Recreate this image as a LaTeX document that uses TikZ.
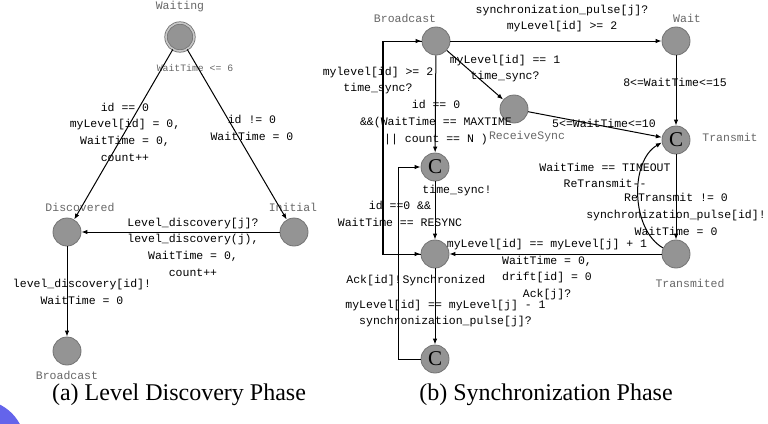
\documentclass[tikz,border=0pt]{standalone}
\usepackage{fontspec}
\setmainfont{Liberation Serif}
\newfontfamily\uppaalfont{Liberation Mono}
\usetikzlibrary{arrows.meta}
\definecolor{blobblue}{RGB}{100,100,235}

\begin{document}
\begin{tikzpicture}[
  x=1pt, y=-1pt,
  loc/.style={circle, draw=black!55, fill=black!42, minimum size=28pt,
    inner sep=0pt, line width=0.8pt},
  comm/.style={loc, font=\fontsize{21}{21}\selectfont},
  initloc/.style={loc, double=black!22, double distance=1.6pt},
  lbl/.style={align=center, inner sep=0pt,
    font=\uppaalfont\fontsize{11.5}{16.7}\selectfont},
  locname/.style={lbl, text=black!60},
  guard/.style={lbl, text=black!60, font=\uppaalfont\fontsize{9.8}{12}\selectfont},
  capt/.style={inner sep=0pt, font=\fontsize{24}{26}\selectfont},
  arr/.style={-{Latex[length=6pt, width=4.5pt]}, line width=1pt}
]
\useasboundingbox (0,0) rectangle (768,423);
\fill[blobblue] (-20,445) circle (45);

% (a) level discovery
\node[initloc] (waiting) at (180,37) {};
\node[loc] (discovered) at (67,232) {};
\node[loc] (initial) at (294,232) {};
\node[loc] (bcastA) at (67,351) {};

\node[locname] (nWaiting) at (180,7) {Waiting};
\node[locname] (nDiscovered) at (80,207) {Discovered};
\node[locname] (nInitial) at (293,207) {Initial};
\node[locname] (nBcastA) at (67,375.5) {Broadcast};
\node[guard] (gWait) at (195,68) {WaitTime <= 6};

\node[lbl] (lRoot) at (125,132) {id == 0\\myLevel[id] = 0,\\WaitTime = 0,\\count++};
\node[lbl] (lNode) at (252,128) {id != 0\\WaitTime = 0};
\node[lbl] (lDisc) at (193,247) {Level\_discovery[j]?\\level\_discovery(j),\\WaitTime = 0,\\count++};
\node[lbl] (lSend) at (82,292) {level\_discovery[id]!\\WaitTime = 0};

\draw[arr] (waiting) -- (discovered);
\draw[arr] (waiting) -- (initial);
\draw[arr] (initial) -- (discovered);
\draw[arr] (discovered) -- (bcastA);

\node[capt] (captA) at (179,395) {(a) Level Discovery Phase};

% (b) synchronization
\node[loc] (bcastB) at (436,41) {};
\node[loc] (wait) at (676,41) {};
\node[loc] (recsync) at (514,109) {};
\node[comm] (transmit) at (676,140) {C};
\node[comm] (commitA) at (435,167) {C};
\node[loc] (sync) at (435,254) {};
\node[loc] (transmited) at (676,254) {};
\node[comm] (commitB) at (435,359) {C};

\node[locname] (nBcastB) at (405,18) {Broadcast};
\node[locname] (nWaitB) at (687,18) {Wait};
\node[locname] (nRecSync) at (527,137) {ReceiveSync};
\node[locname] (nTransmit) at (730,137) {Transmit};
\node[locname] (nTransmited) at (690,283) {Transmited};
\node[lbl] (nSync) at (444,281) {Synchronized};

\node[lbl] (lPulse) at (562,18.5) {synchronization\_pulse[j]?\\myLevel[id] >= 2};
\node[lbl] (lLevelOne) at (505,68.5) {myLevel[id] == 1\\time\_sync?};
\node[lbl] (lLevelTwo) at (378,80.5) {mylevel[id] >= 2\\time\_sync?};
\node[lbl] (lMaxTime) at (436,122.5) {id == 0\\\&\&(WaitTime == MAXTIME\\|| count == N )};
\node[lbl] (lWaitA) at (675,82) {8<=WaitTime<=15};
\node[lbl] (lWaitB) at (604,123) {5<=WaitTime<=10};
\node[lbl] (lSyncOut) at (457,191) {time\_sync!};
\node[lbl] (lResync) at (400,214) {id ==0 \&\&\\WaitTime == RESYNC};
\node[lbl] (lTimeout) at (605,175.5) {WaitTime == TIMEOUT\\ReTransmit-{}-};
\node[lbl] (lRetrans) at (676,214.5) {ReTransmit != 0\\synchronization\_pulse[id]!\\WaitTime = 0};
\node[lbl] (lAck) at (547,269.5) {myLevel[id] == myLevel[j] + 1\\WaitTime = 0,\\drift[id] = 0\\Ack[j]?};
\node[lbl] (lAckOut) at (374,281) {Ack[id]!};
\node[lbl] (lLower) at (445.5,313.5) {myLevel[id] == myLevel[j] - 1\\synchronization\_pulse[j]?};

\draw[arr] (bcastB) -- (wait);
\draw[arr] (bcastB) -- (recsync);
\draw[arr] (recsync) -- (transmit);
\draw[arr] (wait) -- (transmit);
\draw[arr] (transmit) -- (transmited);
\draw[arr] (transmited) -- (sync);
\draw[arr] (transmited.155) to[out=150, in=210, looseness=0.9] (transmit.190);
\draw[arr] (bcastB) -- (commitA);
\draw[arr] (commitA) -- (sync);
\draw[arr] (sync) -- (commitB);
\draw[arr] (commitB.west) -- ++(-22,0) |- (commitA.west);
\draw[arr] (sync.west) -- ++(-38,0) |- (bcastB.west);
\draw[arr] (bcastB.west) -- ++(-38,0) |- (sync.west);

\node[capt] (captB) at (546,395) {(b) Synchronization Phase};
\end{tikzpicture}
\end{document}
